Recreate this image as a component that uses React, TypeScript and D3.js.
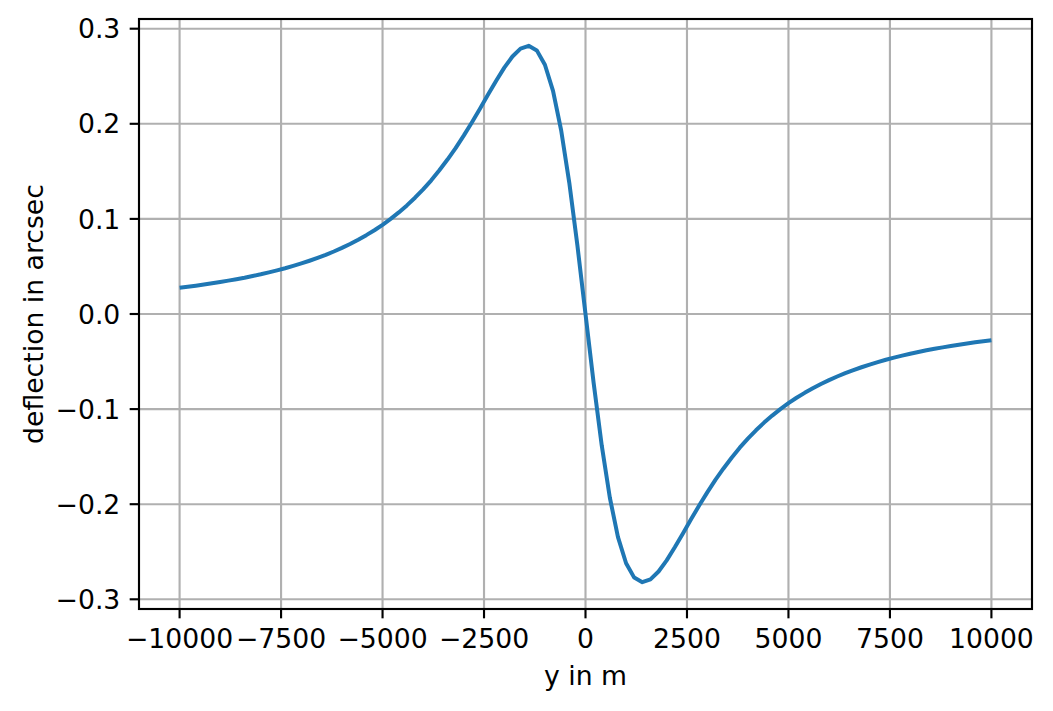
import React from "react";
import * as d3 from "d3";

// sample positions (m) and deflection (arcsec)
const yPositions: number[] = d3.range(-10000, 10001, 200);
const deflectionNeg: number[] = [
  0.0276, 0.0287, 0.0298, 0.0310, 0.0323, 0.0337, 0.0351, 0.0366, 0.0382, 0.0400,
  0.0418, 0.0438, 0.0459, 0.0481, 0.0506, 0.0532, 0.0560, 0.0590, 0.0622, 0.0657,
  0.0695, 0.0736, 0.0781, 0.0829, 0.0881, 0.0938, 0.1000, 0.1068, 0.1142, 0.1223,
  0.1311, 0.1406, 0.1511, 0.1624, 0.1745, 0.1876, 0.2014, 0.2159, 0.2307, 0.2453,
  0.2591, 0.2708, 0.2791, 0.2820, 0.2772, 0.2621, 0.2346, 0.1932, 0.1382, 0.0722,
];
const deflectionCenter: number[] = [0];
const deflectionPos: number[] = [
  -0.0722, -0.1382, -0.1932, -0.2346, -0.2621, -0.2772, -0.2820, -0.2791, -0.2708, -0.2591,
  -0.2453, -0.2307, -0.2159, -0.2014, -0.1876, -0.1745, -0.1624, -0.1511, -0.1406, -0.1311,
  -0.1223, -0.1142, -0.1068, -0.1000, -0.0938, -0.0881, -0.0829, -0.0781, -0.0736, -0.0695,
  -0.0657, -0.0622, -0.0590, -0.0560, -0.0532, -0.0506, -0.0481, -0.0459, -0.0438, -0.0418,
  -0.0400, -0.0382, -0.0366, -0.0351, -0.0337, -0.0323, -0.0310, -0.0298, -0.0287, -0.0276,
];
const deflection: number[] = [...deflectionNeg, ...deflectionCenter, ...deflectionPos];

const xTicks: number[] = [-10000, -7500, -5000, -2500, 0, 2500, 5000, 7500, 10000];
const yTicks: number[] = [-0.3, -0.2, -0.1, 0.0, 0.1, 0.2, 0.3];

const W = 1053;
const H = 711;
const left = 139;
const right = 1032;
const top = 19;
const bottom = 609;

const FONT = "'DejaVu Sans', sans-serif";
const PT = 192 / 72;
const FS = 10 * PT;

function fmtX(v: number) {
  const s = d3.format("d")(Math.abs(v));
  return v < 0 ? "\u2212" + s : s;
}
function fmtY(v: number) {
  const s = Math.abs(v).toFixed(1);
  return v < -1e-9 ? "\u2212" + s : s;
}

export default function App() {
  const xMin = d3.min(yPositions)!;
  const xMax = d3.max(yPositions)!;
  const xPad = (xMax - xMin) * 0.05;
  const yMin = d3.min(deflection)!;
  const yMax = d3.max(deflection)!;
  const yPad = (yMax - yMin) * 0.05;

  const x = d3.scaleLinear().domain([xMin - xPad, xMax + xPad]).range([left, right]);
  const y = d3.scaleLinear().domain([yMin - yPad, yMax + yPad]).range([bottom, top]);

  const pts: [number, number][] = yPositions.map((p, i) => [p, deflection[i]]);
  const line = d3
    .line<[number, number]>()
    .x((d) => x(d[0]))
    .y((d) => y(d[1]));

  const tickLen = 3.5 * PT;
  const pad = 3.5 * PT;
  const gridColor = "#b0b0b0";
  const thin = 0.8 * PT;

  return (
    <svg
      width={W}
      height={H}
      style={{ position: "absolute", left: 0, top: 0, background: "#fff" }}
      fontFamily={FONT}
    >
      <rect x={0} y={0} width={W} height={H} fill="#fff" />
      {/* grid */}
      <g>
        {xTicks.map((t) => (
          <line key={"gx" + t} x1={x(t)} x2={x(t)} y1={top} y2={bottom} stroke={gridColor} strokeWidth={thin} />
        ))}
        {yTicks.map((t) => (
          <line key={"gy" + t} x1={left} x2={right} y1={y(t)} y2={y(t)} stroke={gridColor} strokeWidth={thin} />
        ))}
      </g>
      {/* data line */}
      <path
        d={line(pts) || ""}
        fill="none"
        stroke="#1f77b4"
        strokeWidth={1.5 * PT}
        strokeLinejoin="round"
        strokeLinecap="butt"
      />
      {/* spines */}
      <rect x={left} y={top} width={right - left} height={bottom - top} fill="none" stroke="#000" strokeWidth={thin} strokeLinecap="square" />
      {/* x ticks */}
      {xTicks.map((t) => (
        <g key={"xt" + t}>
          <line x1={x(t)} x2={x(t)} y1={bottom} y2={bottom + tickLen} stroke="#000" strokeWidth={thin} />
          <text x={x(t)} y={648} textAnchor="middle" fontSize={FS} fill="#000">
            {fmtX(t)}
          </text>
        </g>
      ))}
      {/* y ticks */}
      {yTicks.map((t) => (
        <g key={"yt" + t}>
          <line x1={left - tickLen} x2={left} y1={y(t)} y2={y(t)} stroke="#000" strokeWidth={thin} />
          <text x={left - tickLen - pad} y={y(t) + 9.6} textAnchor="end" fontSize={FS} fill="#000">
            {fmtY(t)}
          </text>
        </g>
      ))}
      {/* axis labels */}
      <text x={(left + right) / 2} y={685} textAnchor="middle" fontSize={FS} fill="#000">
        y in m
      </text>
      <text
        transform={`translate(43, ${(top + bottom) / 2}) rotate(-90)`}
        textAnchor="middle"
        fontSize={FS}
        fill="#000"
      >
        deflection in arcsec
      </text>
    </svg>
  );
}
